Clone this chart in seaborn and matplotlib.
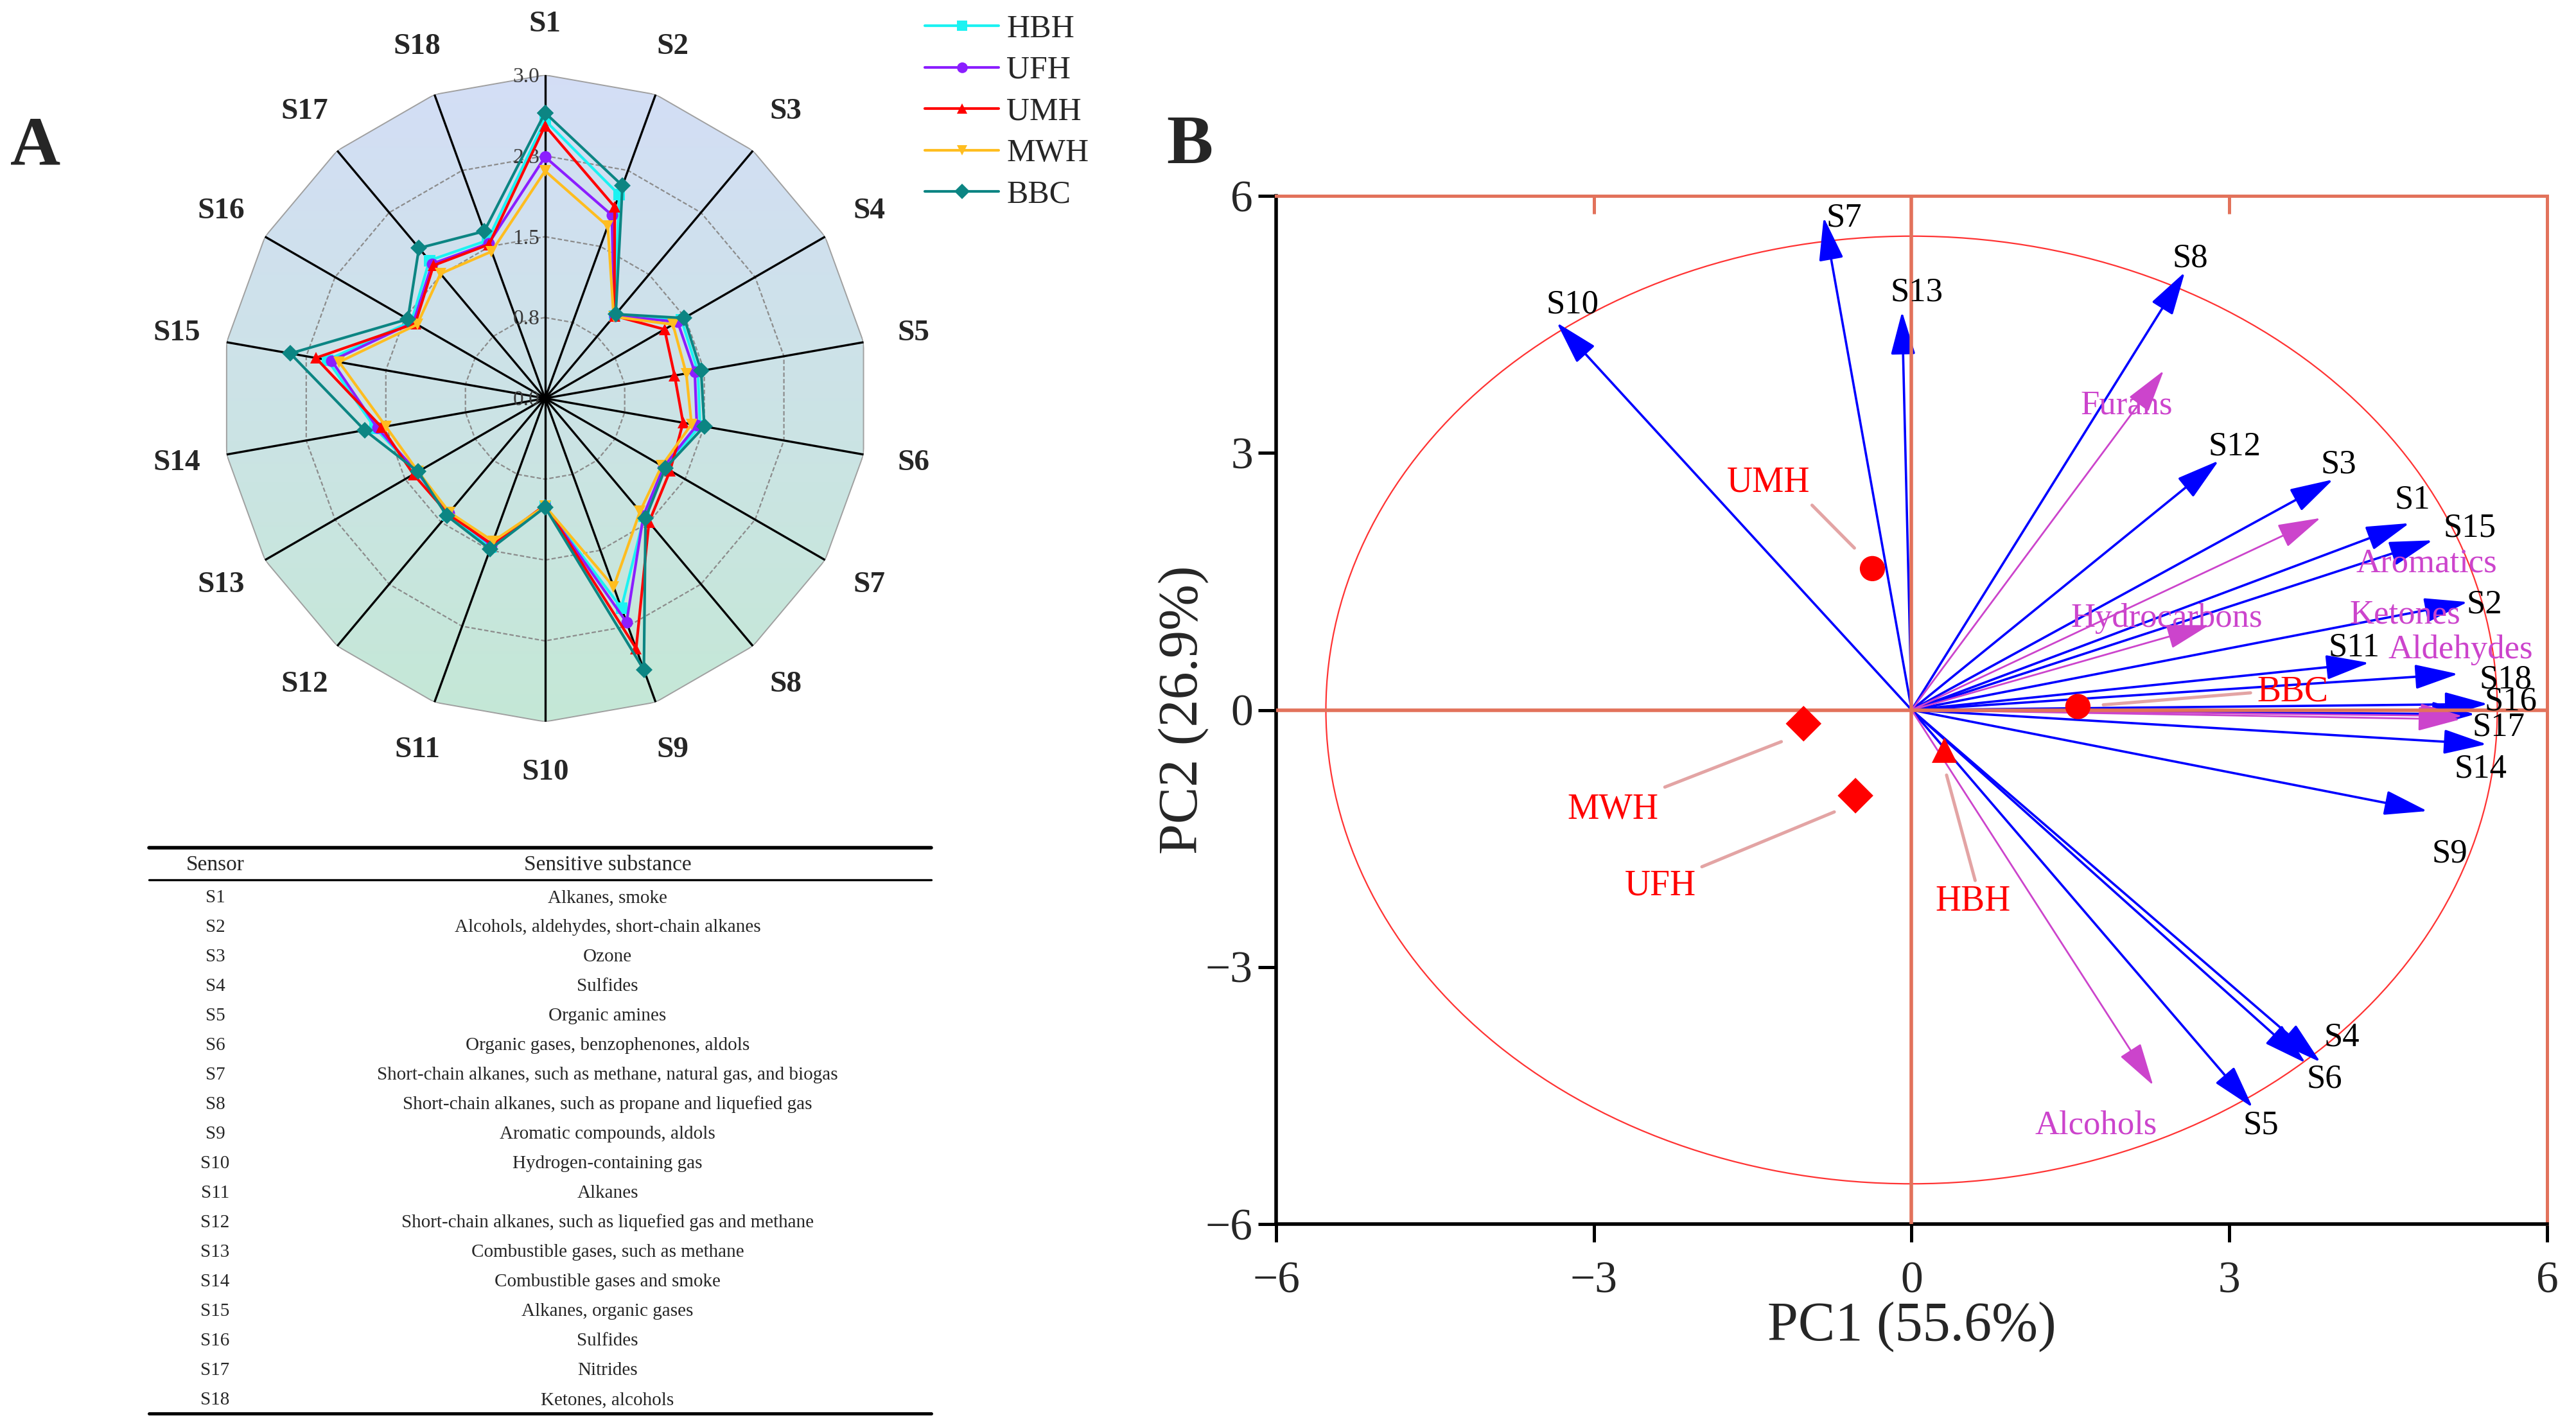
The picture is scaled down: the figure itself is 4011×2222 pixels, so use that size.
import numpy as np
import pandas as pd
import matplotlib
matplotlib.use('Agg')
import matplotlib.pyplot as plt
from matplotlib.lines import Line2D
from matplotlib.patches import Polygon, Ellipse
import seaborn as sns

# ---------------- data: radar (panel A) ----------------
sensors = ['S1', 'S2', 'S3', 'S4', 'S5', 'S6', 'S7', 'S8', 'S9',
           'S10', 'S11', 'S12', 'S13', 'S14', 'S15', 'S16', 'S17', 'S18']
samples = ['HBH', 'UFH', 'UMH', 'MWH', 'BBC']
hbh = [2.58, 2.01, 1.00, 1.46, 1.44, 1.46, 1.28, 1.43, 2.07, 1.00, 1.47, 1.41, 1.37, 1.60, 2.05, 1.43, 1.67, 1.56]
ufh = [2.24, 1.81, 1.00, 1.42, 1.41, 1.43, 1.27, 1.42, 2.21, 1.00, 1.45, 1.39, 1.37, 1.58, 2.01, 1.41, 1.63, 1.53]
umh = [2.53, 1.89, 1.00, 1.28, 1.22, 1.30, 1.34, 1.50, 2.47, 0.99, 1.44, 1.40, 1.41, 1.54, 2.16, 1.39, 1.61, 1.52]
mwh = [2.11, 1.70, 0.99, 1.37, 1.33, 1.38, 1.25, 1.37, 1.86, 1.00, 1.41, 1.38, 1.36, 1.50, 1.94, 1.37, 1.51, 1.45]
bbc = [2.65, 2.10, 1.02, 1.49, 1.47, 1.50, 1.29, 1.45, 2.68, 1.01, 1.49, 1.42, 1.36, 1.70, 2.40, 1.47, 1.82, 1.65]
radar_ticks = [0.0, 0.75, 1.5, 2.25, 3.0]
radar_tick_labels = ['0.0', '0.8', '1.5', '2.3', '3.0']

substances = ['Alkanes, smoke',
              'Alcohols, aldehydes, short-chain alkanes',
              'Ozone',
              'Sulfides',
              'Organic amines',
              'Organic gases, benzophenones, aldols',
              'Short-chain alkanes, such as methane, natural gas, and biogas',
              'Short-chain alkanes, such as propane and liquefied gas',
              'Aromatic compounds, aldols',
              'Hydrogen-containing gas',
              'Alkanes',
              'Short-chain alkanes, such as liquefied gas and methane',
              'Combustible gases, such as methane',
              'Combustible gases and smoke',
              'Alkanes, organic gases',
              'Sulfides',
              'Nitrides',
              'Ketones, alcohols']

# ---------------- data: PCA biplot (panel B) ----------------
load_x = [4.70, 5.25, 3.98, 3.86, 3.22, 3.72, -0.83, 2.58, 4.87, -3.35, 4.32, 2.90, -0.09, 5.43, 4.92, 5.44, 5.32, 5.16]
load_y = [2.18, 1.26, 2.69, -4.11, -4.64, -4.12, 5.75, 5.11, -1.18, 4.52, 0.55, 2.91, 4.65, -0.40, 1.98, 0.07, -0.05, 0.42]
var_names = ['Furans', 'Aromatics', 'Hydrocarbons', 'Ketones', 'Aldehydes', 'Alcohols']
var_x = [2.38, 3.86, 2.81, 5.18, 5.20, 2.28]
var_y = [3.96, 2.24, 0.99, -0.11, -0.07, -4.38]
score_x = [0.31, -0.53, -0.37, -1.02, 1.57]
score_y = [-0.47, -1.00, 1.65, -0.16, 0.04]
pc1_label = 'PC1 (55.6%)'
pc2_label = 'PC2 (26.9%)'

# label placement (text centres, data units)
load_lab = {'S1': (4.73, 2.45), 'S2': (5.41, 1.23), 'S3': (4.03, 2.86), 'S4': (4.06, -3.82),
            'S5': (3.30, -4.85), 'S6': (3.90, -4.31), 'S7': (-0.64, 5.74), 'S8': (2.63, 5.27),
            'S9': (5.08, -1.68), 'S10': (-3.20, 4.73), 'S11': (4.18, 0.73), 'S12': (3.05, 3.07),
            'S13': (0.05, 4.87), 'S14': (5.37, -0.69), 'S15': (5.27, 2.12), 'S16': (5.66, 0.10),
            'S17': (5.54, -0.20), 'S18': (5.61, 0.35)}
var_lab = {'Furans': (2.03, 3.55), 'Aromatics': (4.86, 1.71), 'Hydrocarbons': (2.41, 1.07),
           'Ketones': (4.66, 1.11), 'Aldehydes': (5.18, 0.70), 'Alcohols': (1.74, -4.85)}
score_lab = {'HBH': (0.58, -2.24), 'UFH': (-2.37, -2.05), 'UMH': (-1.35, 2.65),
             'MWH': (-2.82, -1.16), 'BBC': (3.60, 0.21)}
leaders = {'HBH': ((0.60, -1.99), (0.33, -0.76)), 'UFH': ((-1.98, -1.83), (-0.73, -1.19)),
           'UMH': ((-0.94, 2.39), (-0.54, 1.89)), 'MWH': ((-2.33, -0.90), (-1.23, -0.37)),
           'BBC': ((3.20, 0.20), (1.81, 0.06))}

# ---------------- style ----------------
sns.set_theme(style='white')
plt.rcParams['font.family'] = ['Liberation Serif', 'DejaVu Serif']
plt.rcParams['axes.unicode_minus'] = True

colors = {'HBH': '#1CF2F2', 'UFH': '#8B1EFF', 'UMH': '#FF0000', 'MWH': '#FFBD1F', 'BBC': '#0C8583'}
markers = {'HBH': 's', 'UFH': 'o', 'UMH': '^', 'MWH': 'v', 'BBC': 'D'}
coral = '#E2725B'
W, H = 4012, 2222

fig = plt.figure(figsize=(W / 200, H / 200), dpi=200)

# overlay axes in pixel coordinates for table and panel letters
ov = fig.add_axes([0, 0, 1, 1], zorder=-5)
ov.set_xlim(0, W)
ov.set_ylim(H, 0)
ov.axis('off')

# ---------------- panel A: radar ----------------
radar_rect = [345.2 / W, 1 - 1123.8 / H, 1007 / W, 1007 / H]
n = len(sensors)
theta = np.deg2rad(np.arange(n) * 360.0 / n)
theta_c = np.append(theta, 2 * np.pi)

bg = fig.add_axes(radar_rect, zorder=0)
bg.set_xlim(-1, 1)
bg.set_ylim(-1, 1)
bg.axis('off')
g = np.linspace(0, 1, 256)[:, None, None]
top_c = np.array([0.83, 0.87, 0.965])
bot_c = np.array([0.77, 0.91, 0.84])
img = top_c * (1 - g) + bot_c * g
im = bg.imshow(img, extent=(-1, 1, -1, 1), aspect='auto', origin='upper')
clip = Polygon(np.c_[np.sin(theta), np.cos(theta)], closed=True, transform=bg.transData)
im.set_clip_path(clip)

ax_r = fig.add_axes(radar_rect, projection='polar', zorder=1)
ax_r.patch.set_alpha(0)
ax_r.set_theta_zero_location('N')
ax_r.set_theta_direction(-1)
ax_r.grid(False)
ax_r.spines['polar'].set_visible(False)

for r in radar_ticks[1:-1]:
    ax_r.plot(theta_c, [r] * (n + 1), color='#8c8c8c', lw=0.8, ls=(0, (3, 1.5)), zorder=1)
ax_r.plot(theta_c, [radar_ticks[-1]] * (n + 1), color='#a0a0a0', lw=0.7, zorder=1)
for t in theta:
    ax_r.plot([t, t], [0, 3.0], color='black', lw=1.2, zorder=2)

series = dict(zip(samples, [hbh, ufh, umh, mwh, bbc]))
for name in samples:
    vals = series[name]
    sns.lineplot(x=theta_c, y=vals + vals[:1], sort=False, estimator=None, ax=ax_r,
                 color=colors[name], marker=markers[name], markersize=6.5,
                 markeredgewidth=0, linewidth=1.5, zorder=3)

ax_r.set_ylim(0, 3.0)
ax_r.set_xticks([])
ax_r.set_yticks([])
ax_r.set_xlabel('')
ax_r.set_ylabel('')

for t, lab in zip(theta, sensors):
    ax_r.text(t, 3.47, lab, ha='center', va='center', fontsize=17, fontweight='bold', clip_on=False)
for r, lab in zip(radar_ticks, radar_tick_labels):
    ax_r.annotate(lab, xy=(0, r), xytext=(-3, -1), textcoords='offset points',
                  ha='right', va='center', fontsize=12, color='#3a3a3a', zorder=2)

handles = [Line2D([0], [0], color=colors[s], marker=markers[s], lw=1.5, markersize=6,
                  markeredgewidth=0) for s in samples]
fig.legend(handles, samples, loc='upper left', bbox_to_anchor=(1440 / W, 1 - 22 / H),
           frameon=False, fontsize=18, handlelength=2.3, handletextpad=0.25,
           labelspacing=0.36, borderpad=0, borderaxespad=0)

# table of sensors
x0, x1 = 232, 1450
ov.plot([x0, x1], [1320, 1320], color='black', lw=2.0)
ov.plot([x0, x1], [1370, 1370], color='black', lw=1.2)
ov.plot([x0, x1], [2201, 2201], color='black', lw=1.8)
ov.text(335, 1347, 'Sensor', ha='center', va='center', fontsize=12)
ov.text(946, 1347, 'Sensitive substance', ha='center', va='center', fontsize=12)
for i, (s, sub) in enumerate(zip(sensors, substances)):
    y = 1398 + 46.0 * i
    ov.text(335, y, s, ha='center', va='center', fontsize=10.5)
    ov.text(946, y, sub, ha='center', va='center', fontsize=10.5)

ov.text(55, 230, 'A', ha='center', va='center', fontsize=39, fontweight='bold')
ov.text(1852, 228, 'B', ha='center', va='center', fontsize=39, fontweight='bold')

# ---------------- panel B: PCA biplot ----------------
ax = fig.add_axes([1987 / W, 1 - 1906 / H, 1979 / W, 1601 / H], zorder=2)
ax.set_facecolor('white')
ax.set_xlim(-6, 6)
ax.set_ylim(-6, 6)
ax.set_xticks([-6, -3, 0, 3, 6])
ax.set_yticks([-6, -3, 0, 3, 6])
ax.tick_params(axis='both', direction='out', length=10, width=1.8, color='black',
               labelsize=25, bottom=True, left=True, top=False, right=False)
ax.tick_params(axis='x', pad=11)
ax.tick_params(axis='y', pad=3)
for side in ['left', 'bottom']:
    ax.spines[side].set_color('black')
    ax.spines[side].set_linewidth(2.0)
for side in ['top', 'right']:
    ax.spines[side].set_color(coral)
    ax.spines[side].set_linewidth(1.8)
sec = ax.secondary_xaxis('top')
sec.set_xticks([-3, 3])
sec.tick_params(direction='in', length=10, width=1.8, color=coral, labeltop=False)
sec.spines['top'].set_color(coral)
sec.spines['top'].set_linewidth(1.8)

ax.axhline(0, color=coral, lw=2.0, zorder=3.5)
ax.axvline(0, color=coral, lw=2.0, zorder=3.5)
ax.add_patch(Ellipse((0, 0), 11.06, 11.06, fill=False, ec='#FF3333', lw=0.8, zorder=2))

for lx, ly in zip(load_x, load_y):
    ax.annotate('', xy=(lx, ly), xytext=(0, 0),
                arrowprops=dict(arrowstyle='-|>,head_length=1.05,head_width=0.3', color='#0000FF',
                                lw=1.3, shrinkA=0, shrinkB=0, mutation_scale=20), zorder=3)
for vx, vy in zip(var_x, var_y):
    ax.annotate('', xy=(vx, vy), xytext=(0, 0),
                arrowprops=dict(arrowstyle='-|>,head_length=1.05,head_width=0.3', color='#CC44CC',
                                lw=1.0, shrinkA=0, shrinkB=0, mutation_scale=20), zorder=3.2)

for s in sensors:
    tx, ty = load_lab[s]
    ax.text(tx, ty, s, ha='center', va='center', fontsize=19, color='black', zorder=6)
for v in var_names:
    tx, ty = var_lab[v]
    ax.text(tx, ty, v, ha='center', va='center', fontsize=19, color='#CC44CC', zorder=6)

scores = pd.DataFrame({'sample': samples, 'PC1': score_x, 'PC2': score_y})
for name in samples:
    (ax_, ay_), (bx_, by_) = leaders[name]
    ax.plot([ax_, bx_], [ay_, by_], color='#E3A4A4', lw=1.8, zorder=4)
sns.scatterplot(data=scores, x='PC1', y='PC2', style='sample',
                markers={'HBH': '^', 'UFH': 'D', 'UMH': 'o', 'MWH': 'D', 'BBC': 'o'},
                color='#FF0000', s=200, edgecolor='none', legend=False, ax=ax, zorder=5)
for name in samples:
    tx, ty = score_lab[name]
    ax.text(tx, ty, name, ha='center', va='center', fontsize=20, color='#FF0000', zorder=6)

ax.set_xlabel(pc1_label, fontsize=31, labelpad=6)
ax.set_ylabel(pc2_label, fontsize=31)
ax.xaxis.label.set_va('center')
ax.xaxis.set_label_coords(0.5, -0.1)
ax.yaxis.label.set_va('center')
ax.yaxis.set_label_coords(-0.073, 0.5)

fig.savefig('out.png', dpi=200)
